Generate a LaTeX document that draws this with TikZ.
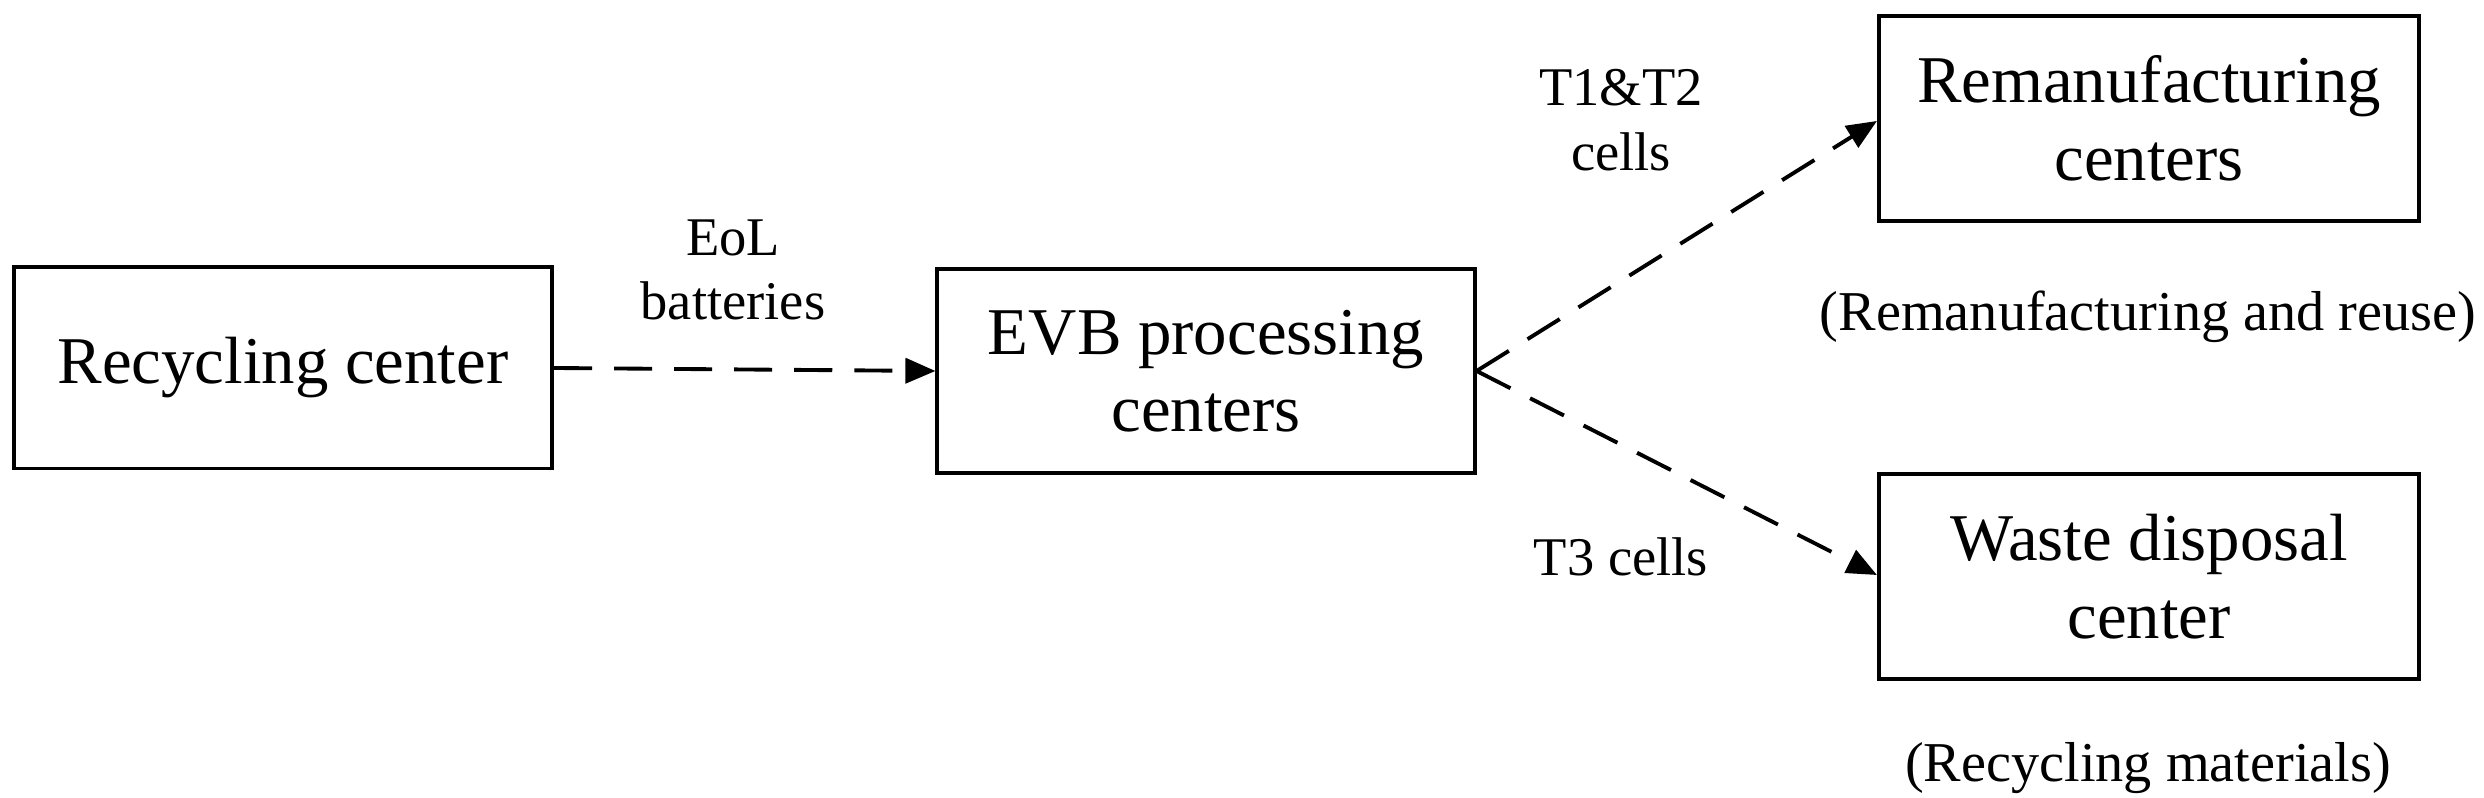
\documentclass[tikz,border=0pt]{standalone}
\usepackage{fontspec}
\setmainfont{Liberation Serif}
\usetikzlibrary{arrows.meta}
\begin{document}
\begin{tikzpicture}[x=0.01cm,y=-0.01cm,
  box/.style={draw,line width=1.1pt,inner sep=0pt,align=center,font=\fontsize{19}{22}\selectfont},
  lab/.style={align=center,inner sep=0pt,font=\fontsize{15.5}{18.4}\selectfont},
  note/.style={inner sep=0pt,font=\fontsize{16}{19}\selectfont},
  arr/.style={line width=1.1pt,dash pattern=on 0.38cm off 0.22cm,-{Triangle[length=0.3cm,width=0.25cm]}}]
\useasboundingbox (0,0) rectangle (2484,798);
\node[box,minimum width=5.38cm,minimum height=2.01cm] (rc) at (283,368) {Recycling center};
\node[box,minimum width=5.37cm,minimum height=2.04cm] (evb) at (1206,371) {EVB processing\\centers};
\node[box,minimum width=5.40cm,minimum height=2.05cm] (rm) at (2149,118.5) {Remanufacturing\\centers};
\node[box,minimum width=5.40cm,minimum height=2.05cm] (wd) at (2149,576.5) {Waste disposal\\center};
\coordinate (t1) at (1879,121);
\coordinate (t2) at (1879,575);
\draw[arr] (rc.east) -- (evb.west);
\draw[arr] (evb.east) -- (rm.west |- t1);
\draw[arr] (evb.east) -- (wd.west |- t2);
\node[lab] (l1) at (733,270) {EoL\\batteries};
\node[lab] (l2) at (1621,120) {T1\&T2\\cells};
\node[lab] (l3) at (1621,557) {T3 cells};
\node[note] (n1) at (2148,317) {(Remanufacturing and reuse)};
\node[note] (n2) at (2148,768) {(Recycling materials)};
\end{tikzpicture}
\end{document}
